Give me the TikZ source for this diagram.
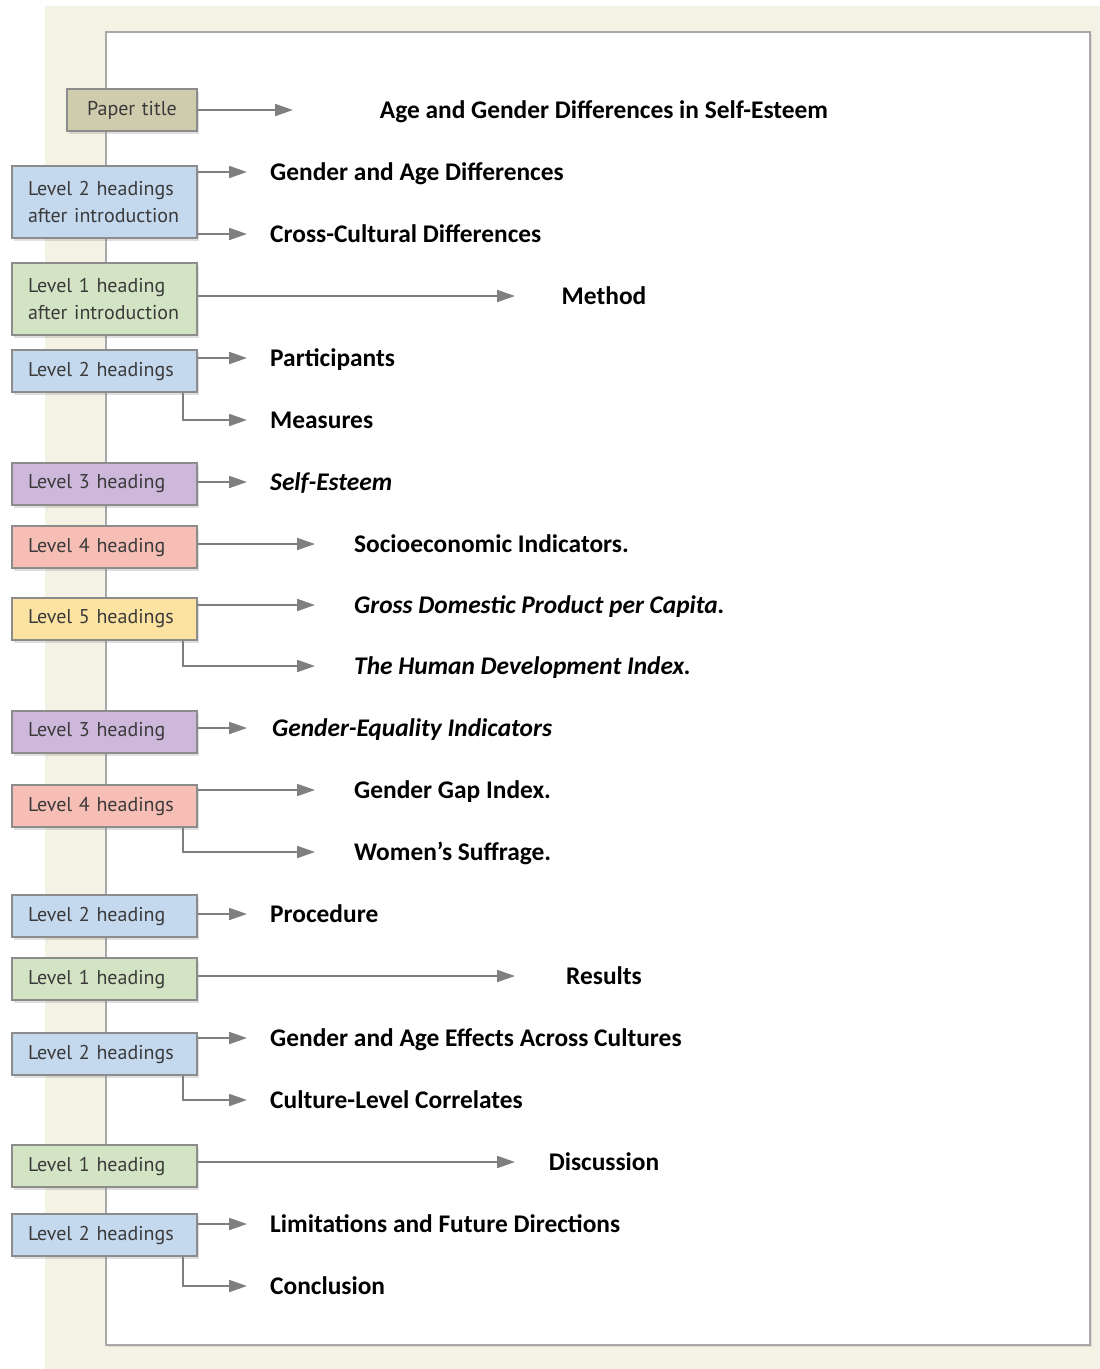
\documentclass[tikz,border=0pt]{standalone}
\usepackage{fontspec}
\setmainfont{Carlito}
\newfontfamily\boxfont{PT Sans}
\usepackage{xcolor}
\usepackage{tikz}
\usetikzlibrary{arrows.meta,positioning,calc,shadows}

\definecolor{pagebg}{HTML}{F3F2E4}
\definecolor{pageline}{HTML}{A8A8A8}
\definecolor{boxline}{HTML}{8C8C8C}
\definecolor{boxtext}{HTML}{3A3A3A}
\definecolor{titlefill}{HTML}{CFCCAE}
\definecolor{levone}{HTML}{D3E4C4}
\definecolor{levtwo}{HTML}{C4D8EE}
\definecolor{levthree}{HTML}{CDB8DC}
\definecolor{levfour}{HTML}{F7BEB6}
\definecolor{levfive}{HTML}{FDE3A2}
\definecolor{arrowgray}{HTML}{7F7F7F}

\begin{document}
\begin{tikzpicture}[x=1pt,y=-1pt,
    lvlbox/.style={draw=boxline, line width=1.2pt, text=boxtext,
      font=\boxfont\fontsize{20}{27}\selectfont,
      minimum height=42pt, text width=153pt, inner xsep=16pt, align=left,
      drop shadow={shadow xshift=2pt, shadow yshift=-3pt, opacity=0.25}},
    head/.style={font=\bfseries\fontsize{25.4}{30}\selectfont, inner sep=0pt,
      text height=16pt, text depth=0pt, anchor=west},
    arr/.style={draw=arrowgray, line width=2pt, -{Triangle[length=18pt,width=12pt]}}]
    % Background and page
    \useasboundingbox (0,0) rectangle (1100,1369);
    \fill [white] (0,0) rectangle (1100,1369);
    \fill [pagebg] (45,6) rectangle (1100,1369);
    \draw [pageline, line width=1.5pt, fill=white,
      drop shadow={shadow xshift=1.5pt, shadow yshift=-1.5pt, opacity=0.2}]
      (106,32) rectangle (1090,1345);
    % Arrow columns
    \coordinate (colT) at (293,0);
    \coordinate (colA) at (247,0);
    \coordinate (colB) at (315,0);
    \coordinate (colC) at (515,0);
    % Boxes
    \node [lvlbox, fill=titlefill, text width=98pt, align=center] (title) at (132,110) {Paper title};
    \node [lvlbox, fill=levtwo, minimum height=72pt] (ltwointro) at (104.5,202) {Level 2 headings\\after introduction};
    \node [lvlbox, fill=levone, minimum height=72pt] (loneintro) at (104.5,299) {Level 1 heading\\after introduction};
    \node [lvlbox, fill=levtwo] (ltwoa) at (104.5,371) {Level 2 headings};
    \node [lvlbox, fill=levthree] (lthreea) at (104.5,484) {Level 3 heading};
    \node [lvlbox, fill=levfour] (lfoura) at (104.5,547) {Level 4 heading};
    \node [lvlbox, fill=levfive] (lfive) at (104.5,619) {Level 5 headings};
    \node [lvlbox, fill=levthree] (lthreeb) at (104.5,732) {Level 3 heading};
    \node [lvlbox, fill=levfour] (lfourb) at (104.5,806) {Level 4 headings};
    \node [lvlbox, fill=levtwo] (ltwob) at (104.5,916) {Level 2 heading};
    \node [lvlbox, fill=levone] (loneb) at (104.5,979) {Level 1 heading};
    \node [lvlbox, fill=levtwo] (ltwoc) at (104.5,1054) {Level 2 headings};
    \node [lvlbox, fill=levone] (lonec) at (104.5,1166) {Level 1 heading};
    \node [lvlbox, fill=levtwo] (ltwod) at (104.5,1235) {Level 2 headings};
    % Headings on the page
    \node [head, anchor=center] (hTitle) at (604,110) {Age and Gender Differences in Self-Esteem};
    \node [head] (hGender) at (270,172) {Gender and Age Differences};
    \node [head] (hCross) at (270,234) {Cross-Cultural Differences};
    \node [head, anchor=center] (hMethod) at (604,296) {Method};
    \node [head] (hPart) at (270,358) {Participants};
    \node [head] (hMeas) at (270,420) {Measures};
    \node [head] (hSelf) at (270,482) {\itshape Self-Esteem};
    \node [head] (hSocio) at (354,544) {Socioeconomic Indicators.};
    \node [head] (hGross) at (354,605) {\itshape Gross Domestic Product per Capita.};
    \node [head] (hHuman) at (354,666) {\itshape The Human Development Index.};
    \node [head] (hEqual) at (272,728) {\itshape Gender-Equality Indicators};
    \node [head] (hGap) at (354,790) {Gender Gap Index.};
    \node [head] (hSuff) at (354,852) {Women’s Suffrage.};
    \node [head] (hProc) at (270,914) {Procedure};
    \node [head, anchor=center] (hResults) at (604,976) {Results};
    \node [head] (hEffects) at (270,1038) {Gender and Age Effects Across Cultures};
    \node [head] (hCorr) at (270,1100) {Culture-Level Correlates};
    \node [head, anchor=center] (hDisc) at (604,1162) {Discussion};
    \node [head] (hLimit) at (270,1224) {Limitations and Future Directions};
    \node [head] (hConcl) at (270,1286) {Conclusion};
    % Arrows
    \draw [arr] (title.east |- hTitle) -- (colT |- hTitle);
    \draw [arr] (ltwointro.east |- hGender) -- (colA |- hGender);
    \draw [arr] (ltwointro.east |- hCross) -- (colA |- hCross);
    \draw [arr] (loneintro.east |- hMethod) -- (colC |- hMethod);
    \draw [arr] (ltwoa.east |- hPart) -- (colA |- hPart);
    \draw [arr] ([xshift=-15pt]ltwoa.south east) |- (colA |- hMeas);
    \draw [arr] (lthreea.east |- hSelf) -- (colA |- hSelf);
    \draw [arr] (lfoura.east |- hSocio) -- (colB |- hSocio);
    \draw [arr] (lfive.east |- hGross) -- (colB |- hGross);
    \draw [arr] ([xshift=-15pt]lfive.south east) |- (colB |- hHuman);
    \draw [arr] (lthreeb.east |- hEqual) -- (colA |- hEqual);
    \draw [arr] (lfourb.east |- hGap) -- (colB |- hGap);
    \draw [arr] ([xshift=-15pt]lfourb.south east) |- (colB |- hSuff);
    \draw [arr] (ltwob.east |- hProc) -- (colA |- hProc);
    \draw [arr] (loneb.east |- hResults) -- (colC |- hResults);
    \draw [arr] (ltwoc.east |- hEffects) -- (colA |- hEffects);
    \draw [arr] ([xshift=-15pt]ltwoc.south east) |- (colA |- hCorr);
    \draw [arr] (lonec.east |- hDisc) -- (colC |- hDisc);
    \draw [arr] (ltwod.east |- hLimit) -- (colA |- hLimit);
    \draw [arr] ([xshift=-15pt]ltwod.south east) |- (colA |- hConcl);
\end{tikzpicture}
\end{document}
